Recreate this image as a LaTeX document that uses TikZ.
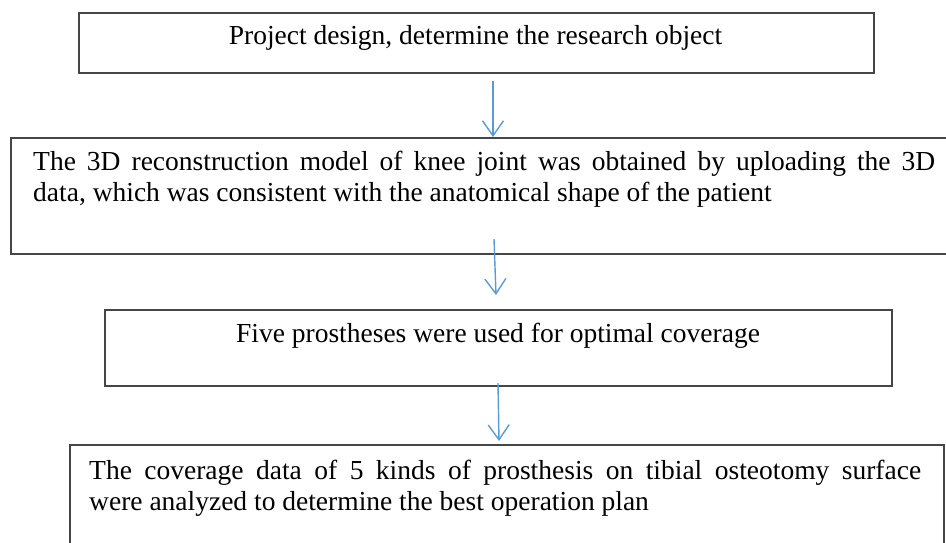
\documentclass[tikz,border=0pt]{standalone}
\usepackage{fontspec}
\setmainfont{Liberation Serif}
\usetikzlibrary{arrows.meta}
\definecolor{arrowblue}{RGB}{91,155,213}
\definecolor{frame}{RGB}{70,70,70}
\begin{document}
\begin{tikzpicture}[x=1pt,y=-1pt,
  stepbox/.style={draw=frame, line width=1.6pt, inner sep=0pt, anchor=north west},
  boxtext/.style={inner sep=0pt, font=\fontsize{27.5}{31}\selectfont},
  flow/.style={draw=arrowblue, line width=1.4pt, -{Straight Barb[length=15pt,width=21pt,line width=1.4pt]}}]
  % page frame
  \clip (0,0) rectangle (946,542);
  \fill[white] (0,0) rectangle (946,542);

  % process boxes
  \node[stepbox, minimum width=795pt, minimum height=60pt]  (b1) at (78,12)  {};
  \node[stepbox, minimum width=960pt, minimum height=116pt] (b2) at (10,137) {};
  \node[stepbox, minimum width=787pt, minimum height=76pt]  (b3) at (104,309) {};
  \node[stepbox, minimum width=874pt, minimum height=130pt] (b4) at (69,444) {};

  % box texts
  \node[boxtext, anchor=base] (t1) at (475.5,44)
    {Project design, determine the research object};
  \node[boxtext, anchor=base west, text width=902pt, align=justify] (t2) at (33,170.7)
    {The 3D reconstruction model of knee joint was obtained by uploading the 3D\linebreak
     data, which was consistent with the anatomical shape of the patient};
  \node[boxtext, anchor=base] (t3) at (498,342)
    {Five prostheses were used for optimal coverage};
  \node[boxtext, anchor=base west, text width=832pt, align=justify] (t4) at (89,479)
    {The coverage data of 5 kinds of prosthesis on tibial osteotomy surface\linebreak
     were analyzed to determine the best operation plan};

  % connector ends
  \coordinate (a1s) at (493,81);
  \coordinate (a1e) at (493,137);
  \coordinate (a2s) at (494,239);
  \coordinate (a2e) at (496,295);
  \coordinate (a3s) at (498,383);
  \coordinate (a3e) at (499,441);

  \draw[flow] (a1s) -- (a1e);
  \draw[flow] (a2s) -- (a2e);
  \draw[flow] (a3s) -- (a3e);
\end{tikzpicture}
\end{document}
